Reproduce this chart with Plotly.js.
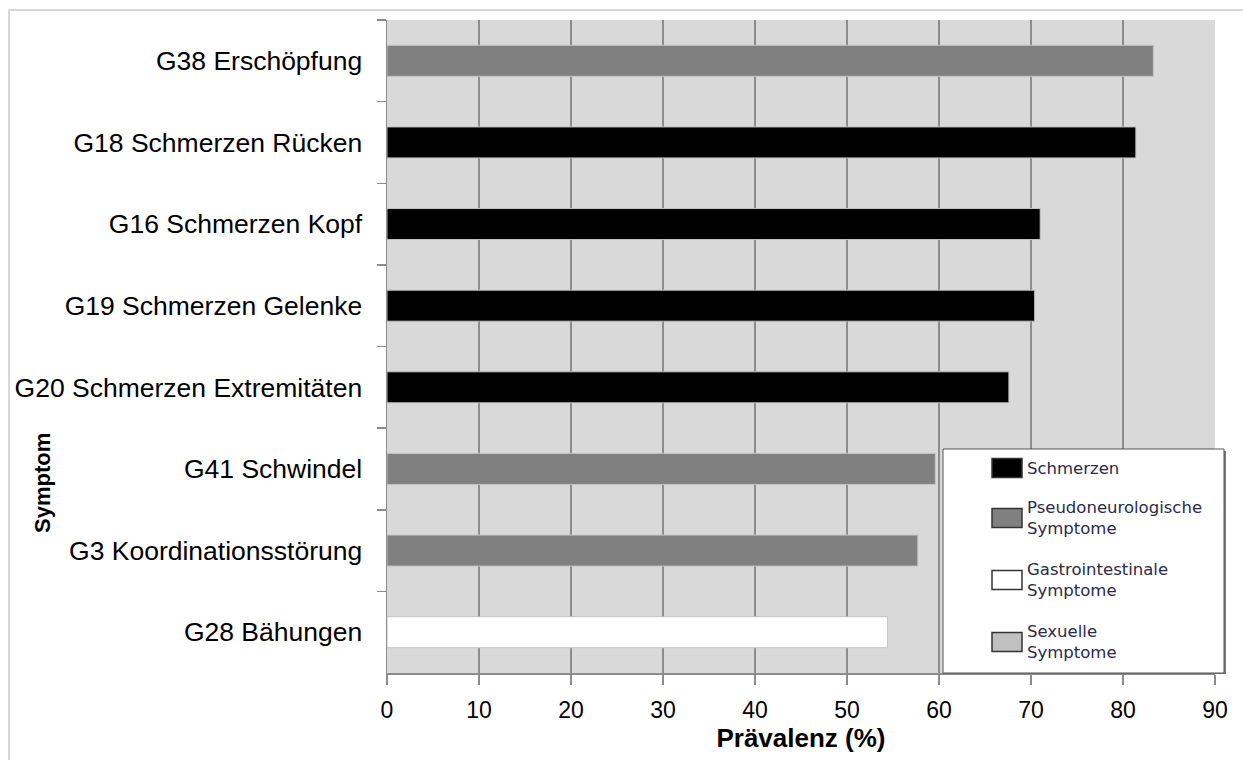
<!DOCTYPE html>
<html>
<head>
<meta charset="utf-8">
<script src="https://cdn.plot.ly/plotly-3.0.1.min.js"></script>
<style>
  html, body { margin: 0; padding: 0; background: #ffffff; }
  #chart { width: 1243px; height: 760px; }
</style>
</head>
<body>
<div id="chart"></div>
<script>
// Symptoms, top to bottom, with prevalence in percent and symptom group
const symptoms = [
  'G38 Erschöpfung',
  'G18 Schmerzen Rücken',
  'G16 Schmerzen Kopf',
  'G19 Schmerzen Gelenke',
  'G20 Schmerzen Extremitäten',
  'G41 Schwindel',
  'G3 Koordinationsstörung',
  'G28 Bähungen'
];
const prevalence = [83.3, 81.4, 71.0, 70.4, 67.6, 59.6, 57.7, 54.4];
const symptomGroup = ['pseudo', 'pain', 'pain', 'pain', 'pain', 'pseudo', 'pseudo', 'gastro'];

// Symptom groups: keys, legend labels, fill colours
const groupKeys = ['pain', 'pseudo', 'gastro', 'sexual'];
const groupLabels = [
  'Schmerzen',
  'Pseudoneurologische<br>Symptome',
  'Gastrointestinale<br>Symptome',
  'Sexuelle<br>Symptome'
];
const groupColors = ['#000000', '#808080', '#ffffff', '#c0c0c0'];

const xTicks = [0, 10, 20, 30, 40, 50, 60, 70, 80, 90];

// Page geometry
const W = 1243, H = 760;
const M = { l: 387, r: 28, t: 20, b: 87 };
const PW = W - M.l - M.r, PH = H - M.t - M.b;
const fx = px => (px - M.l) / PW;
const fy = py => (H - M.b - py) / PH;

// One bar trace per symptom group
const traces = groupKeys.map((key, gi) => {
  const ys = [], xs = [];
  symptoms.forEach((s, i) => {
    if (symptomGroup[i] === key) { ys.push(s); xs.push(prevalence[i]); }
  });
  return {
    type: 'bar',
    orientation: 'h',
    name: groupLabels[gi],
    x: xs,
    y: ys,
    marker: { color: groupColors[gi], line: { color: '#c4c4c4', width: 1 } },
    showlegend: false,
    hoverinfo: 'x+y'
  };
});

// Legend box drawn as shapes + annotations
const shapes = [];
const annotations = [];
const box = { x0: 943, y0: 449, x1: 1224, y1: 673 };
shapes.push({
  type: 'rect', xref: 'paper', yref: 'paper', layer: 'above',
  x0: fx(box.x0 + 2), x1: fx(box.x1 + 2), y0: fy(box.y1 + 1), y1: fy(box.y0 + 2),
  fillcolor: '#7a7a7a', line: { width: 0 }
});
shapes.push({
  type: 'rect', xref: 'paper', yref: 'paper', layer: 'above',
  x0: fx(box.x0), x1: fx(box.x1), y0: fy(box.y1), y1: fy(box.y0),
  fillcolor: '#ffffff', line: { color: '#555555', width: 1 }
});
const rowY = [468, 518, 580, 642];
groupKeys.forEach((key, gi) => {
  const cy = rowY[gi];
  shapes.push({
    type: 'rect', xref: 'paper', yref: 'paper', layer: 'above',
    x0: fx(992), x1: fx(1022), y0: fy(cy + 9.5), y1: fy(cy - 9.5),
    fillcolor: groupColors[gi], line: { color: '#333333', width: 1.5 }
  });
  annotations.push({
    xref: 'paper', yref: 'paper', x: fx(1025), y: fy(cy),
    xanchor: 'left', yanchor: 'middle', align: 'left', showarrow: false,
    text: groupLabels[gi],
    font: { family: 'DejaVu Sans, sans-serif', size: 16.5, color: '#2a2a48' }
  });
});

// Vertical axis title
annotations.push({
  xref: 'paper', yref: 'paper', x: fx(42), y: fy(483),
  xanchor: 'center', yanchor: 'middle', showarrow: false, textangle: -90,
  text: '<b>Symptom</b>',
  font: { family: 'Liberation Sans, Arial, sans-serif', size: 22, color: '#000000' }
});

// Outer chart frame
shapes.push({
  type: 'rect', xref: 'paper', yref: 'paper', layer: 'below',
  x0: fx(9), x1: fx(1260), y0: fy(780), y1: fy(10),
  fillcolor: 'rgba(0,0,0,0)', line: { color: '#d9d9d9', width: 2 }
});

const layout = {
  width: W, height: H,
  margin: M,
  paper_bgcolor: '#ffffff',
  plot_bgcolor: '#d9d9d9',
  barmode: 'overlay',
  bargap: 0.62,
  font: { family: 'Liberation Sans, Arial, sans-serif', color: '#000000' },
  xaxis: {
    range: [0, 90],
    tickvals: xTicks,
    ticktext: xTicks.map(String),
    showgrid: true, gridcolor: '#8c8c8c', gridwidth: 1.5,
    zeroline: false,
    showline: true, linecolor: '#8c8c8c', linewidth: 1.5,
    ticks: 'outside', ticklen: 10, tickwidth: 1.5, tickcolor: '#8c8c8c',
    tickfont: { size: 23, color: '#000000' },
    ticklabelstandoff: 6,
    title: { text: '<b>Prävalenz (%)</b>', font: { size: 26, color: '#000000' }, standoff: 5 },
    fixedrange: true
  },
  yaxis: {
    type: 'category',
    categoryorder: 'array',
    categoryarray: symptoms,
    autorange: 'reversed',
    showgrid: false,
    zeroline: false,
    showline: true, linecolor: '#8c8c8c', linewidth: 1.5,
    ticks: 'outside', tickson: 'boundaries', ticklen: 9, tickwidth: 1.5, tickcolor: '#8c8c8c',
    tickfont: { size: 26.5, color: '#000000' },
    ticklabelstandoff: 18,
    fixedrange: true
  },
  shapes: shapes,
  annotations: annotations,
  showlegend: false
};

Plotly.newPlot('chart', traces, layout, { displayModeBar: false, staticPlot: true });
</script>
</body>
</html>
